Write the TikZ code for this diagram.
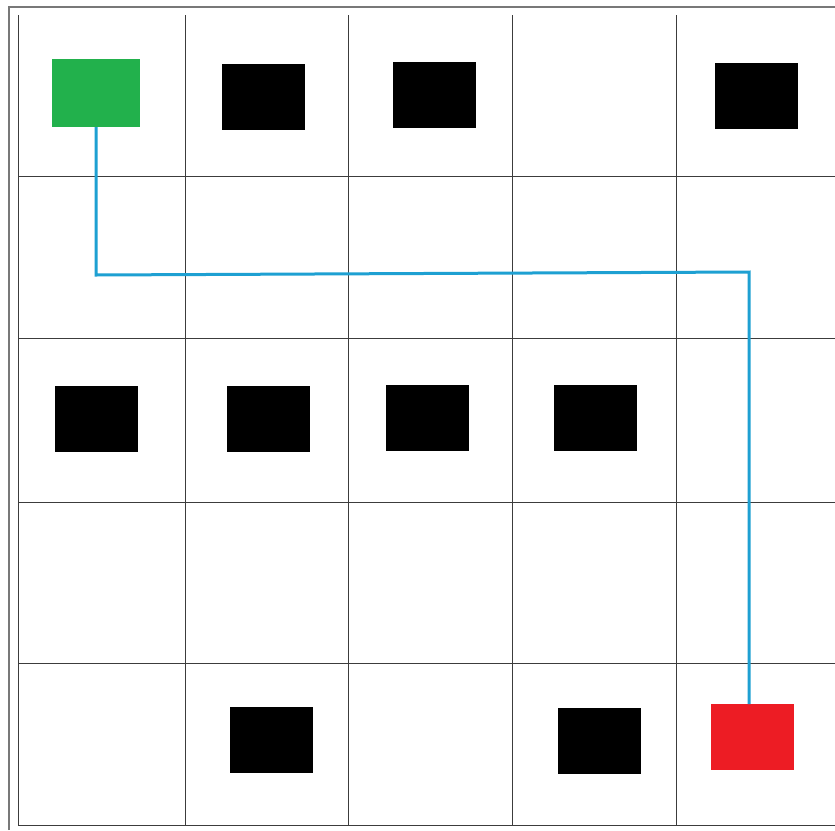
\documentclass[tikz,border=0pt]{standalone}
\begin{document}
\begin{tikzpicture}[x=1pt,y=-1pt,
  blk/.style={fill=black,draw=none,inner sep=0pt,minimum width=83pt,minimum height=66pt},
  startbox/.style={fill={rgb,255:red,34;green,177;blue,76},draw=none,inner sep=0pt,minimum width=88pt,minimum height=68pt},
  goalbox/.style={fill={rgb,255:red,237;green,28;blue,36},draw=none,inner sep=0pt,minimum width=83pt,minimum height=66pt},
  gridline/.style={draw={rgb,255:red,60;green,60;blue,60},line width=0.9pt},
  frameline/.style={draw={rgb,255:red,120;green,120;blue,120},line width=2pt},
  route/.style={draw={rgb,255:red,30;green,160;blue,210},line width=3pt}]
\useasboundingbox (0,0) rectangle (835,830);
\fill[white] (0,0) rectangle (835,830);
% outer frame
\draw[frameline] (9,830) -- (9,7) -- (835,7);
% grid
\foreach \x in {18,185,348,512,676} \draw[gridline] (\x,15) -- (\x,825);
\foreach \y in {176,338,502,663,825} \draw[gridline] (18,\y) -- (835,\y);
% blocks
\node[startbox] (start) at (96,93) {};
\node[blk] (b11) at (263.5,97) {};
\node[blk] (b12) at (434,95) {};
\node[blk] (b13) at (756,96) {};
\node[blk] (b31) at (96.5,419) {};
\node[blk] (b32) at (268.5,419) {};
\node[blk] (b33) at (427,417.5) {};
\node[blk] (b34) at (595.5,417.5) {};
\node[blk] (b51) at (271.5,739.5) {};
\node[blk] (b52) at (599.5,741) {};
\node[goalbox] (goal) at (752.5,737) {};
% route
\coordinate (c1) at (96,275);
\coordinate (c2) at (749,272);
\coordinate (gt) at (749,704);
\draw[route] (start.south) -- (c1) -- (c2) -- (gt);
\end{tikzpicture}
\end{document}
